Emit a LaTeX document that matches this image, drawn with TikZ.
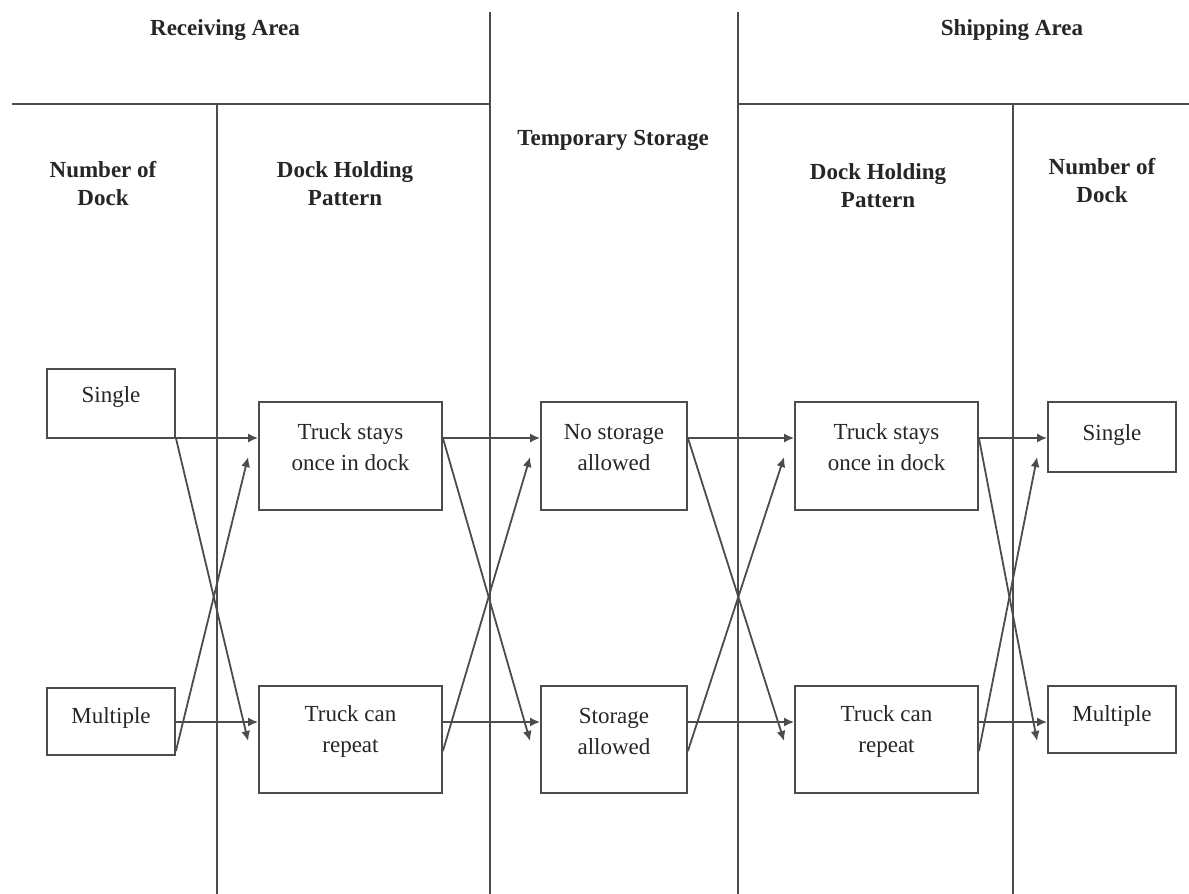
\documentclass[tikz,border=0pt]{standalone}
\usepackage{fontspec}
\setmainfont{Liberation Serif}
\usetikzlibrary{arrows.meta,calc}
\begin{document}
\begin{tikzpicture}[x=0.5pt,y=-0.5pt,
  ln/.style={draw=black!70,line width=0.9pt},
  box/.style={draw=black!70,line width=0.9pt,rectangle,inner sep=0pt},
  hd/.style={font=\fontsize{11.5}{14}\selectfont\bfseries,align=center,text=black!85},
  tx/.style={font=\fontsize{11.5}{15.5}\selectfont,align=center,text=black!85},
  arr/.style={ln,-{Latex[length=5pt,width=4.5pt]}}]
\useasboundingbox (0,0) rectangle (1189,894);
\fill[white] (0,0) rectangle (1189,894);

% frame lines
\draw[ln] (12,104) -- (490,104);
\draw[ln] (738,104) -- (1189,104);
\draw[ln] (217,104) -- (217,894);
\draw[ln] (490,12) -- (490,894);
\draw[ln] (738,12) -- (738,894);
\draw[ln] (1013,104) -- (1013,894);

% headers
\node[hd] (hRec) at (225,30) {Receiving Area};
\node[hd] (hShip) at (1012,30) {Shipping Area};
\node[hd] (hTemp) at (613,140) {Temporary Storage};
\node[hd] (hNumL) at (103,184) {Number of\\Dock};
\node[hd] (hDhpL) at (345,184) {Dock Holding\\Pattern};
\node[hd] (hDhpR) at (878,186) {Dock Holding\\Pattern};
\node[hd] (hNumR) at (1102,181) {Number of\\Dock};

% boxes
\node[box,minimum width=64pt,minimum height=34.5pt] (L1) at (111,403.5) {};
\node[box,minimum width=64pt,minimum height=33.5pt] (L2) at (111,721.5) {};
\node[box,minimum width=91.5pt,minimum height=54pt] (A1) at (350.5,456) {};
\node[box,minimum width=91.5pt,minimum height=53.5pt] (A2) at (350.5,739.5) {};
\node[box,minimum width=73pt,minimum height=54pt] (B1) at (614,456) {};
\node[box,minimum width=73pt,minimum height=53.5pt] (B2) at (614,739.5) {};
\node[box,minimum width=91.5pt,minimum height=54pt] (C1) at (886.5,456) {};
\node[box,minimum width=91.5pt,minimum height=53.5pt] (C2) at (886.5,739.5) {};
\node[box,minimum width=64pt,minimum height=35pt] (R1) at (1112,437) {};
\node[box,minimum width=64pt,minimum height=33.5pt] (R2) at (1112,719.5) {};

% box texts
\node[tx] (tL1) at (111,397) {Single};
\node[tx] (tL2) at (111,718) {Multiple};
\node[tx] (tA1) at (350.5,447.5) {Truck stays\\once in dock};
\node[tx] (tA2) at (350.5,731.5) {Truck can\\repeat};
\node[tx] (tB1) at (614,447.5) {No storage\\allowed};
\node[tx] (tB2) at (614,731.5) {Storage\\allowed};
\node[tx] (tC1) at (886.5,447.5) {Truck stays\\once in dock};
\node[tx] (tC2) at (886.5,731.5) {Truck can\\repeat};
\node[tx] (tR1) at (1112,435) {Single};
\node[tx] (tR2) at (1112,716) {Multiple};

% row levels
\coordinate (yt) at (0,438);
\coordinate (yb) at (0,722);
\coordinate (yd) at (0,751);
\coordinate (yu) at (0,457);
\coordinate (ydn) at (0,741);

% connectors column 1 -> 2
\draw[arr] (L1.east |- yt) -- (A1.west |- yt);
\draw[arr] (L1.east |- yt) -- ($(A2.west |- ydn)+(-10,0)$);
\draw[arr] (L2.east |- yb) -- (A2.west |- yb);
\draw[arr] (L2.east |- yd) -- ($(A1.west |- yu)+(-10,0)$);
% column 2 -> 3
\draw[arr] (A1.east |- yt) -- (B1.west |- yt);
\draw[arr] (A1.east |- yt) -- ($(B2.west |- ydn)+(-10,0)$);
\draw[arr] (A2.east |- yb) -- (B2.west |- yb);
\draw[arr] (A2.east |- yd) -- ($(B1.west |- yu)+(-10,0)$);
% column 3 -> 4
\draw[arr] (B1.east |- yt) -- (C1.west |- yt);
\draw[arr] (B1.east |- yt) -- ($(C2.west |- ydn)+(-10,0)$);
\draw[arr] (B2.east |- yb) -- (C2.west |- yb);
\draw[arr] (B2.east |- yd) -- ($(C1.west |- yu)+(-10,0)$);
% column 4 -> 5
\draw[arr] (C1.east |- yt) -- (R1.west |- yt);
\draw[arr] (C1.east |- yt) -- ($(R2.west |- ydn)+(-10,0)$);
\draw[arr] (C2.east |- yb) -- (R2.west |- yb);
\draw[arr] (C2.east |- yd) -- ($(R1.west |- yu)+(-10,0)$);
\end{tikzpicture}
\end{document}
